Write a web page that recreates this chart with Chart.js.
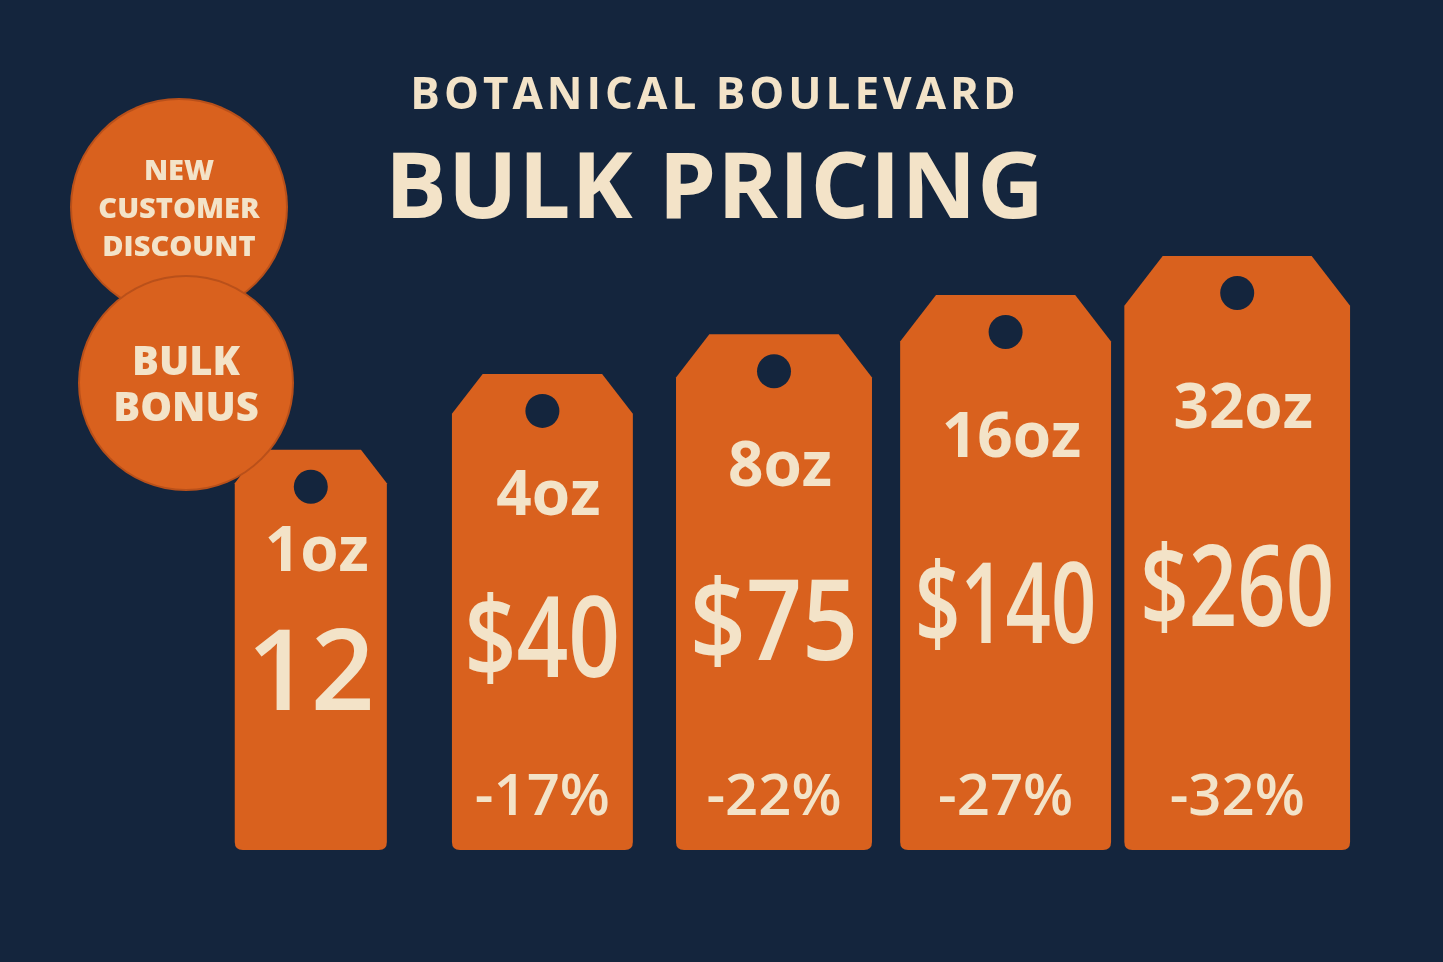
<!DOCTYPE html>
<html>
<head>
<meta charset="utf-8">
<script src="https://cdn.jsdelivr.net/npm/chart.js@4.4.0/dist/chart.umd.min.js"></script>
<style>
body{margin:0;background:#14253d;width:1443px;height:962px;overflow:hidden;position:relative;font-family:"Open Sans",sans-serif}
#wrap{position:absolute;left:0;top:0;width:1443px;height:962px}
.t1{position:absolute;left:0;width:1430px;top:62px;text-align:center;color:#f3e3c8;font:700 44px "Open Sans";letter-spacing:4px}
.t2{position:absolute;left:0;width:1430px;top:120px;text-align:center;color:#f3e3c8;font:700 92px "Open Sans";letter-spacing:1px}
.badge{position:absolute;border-radius:50%;background:#d9611e;color:#f3e3c8;display:flex;align-items:center;justify-content:center;text-align:center;font-weight:800;box-shadow:0 0 0 2px #b9501a}
</style>
</head>
<body>
<div id="wrap"><canvas id="c" width="1443" height="962"></canvas></div>
<div class="t1">BOTANICAL BOULEVARD</div>
<div class="t2">BULK PRICING</div>
<div class="badge" style="left:72px;top:100px;width:214px;height:214px;font-size:29px;line-height:38px">NEW<br>CUSTOMER<br>DISCOUNT</div>
<div class="badge" style="left:80px;top:277px;width:212px;height:212px;font-size:40px;line-height:46px">BULK<br>BONUS</div>
<script>
const sizes = ["1oz","4oz","8oz","16oz","32oz"]
const prices = [12,40,75,140,260]
const priceLabels = ["12","$40","$75","$140","$260"]
const discounts = ["","-17%","-22%","-27%","-32%"]

const orange="#d9611e", cream="#f3e3c8", bg="#14253d"

const tagPlugin={
  id:"tags",
  afterDatasetsDraw(chart){
    const ctx=chart.ctx
    const meta=chart.getDatasetMeta(0)
    meta.data.forEach((bar,i)=>{
      const top=bar.y, bottom=bar.base, h=bottom-top
      const w=h*0.38, x=bar.x, l=x-w/2, r=x+w/2, ch=w*0.17, rr=8
      ctx.save()
      ctx.fillStyle=orange
      ctx.beginPath()
      ctx.moveTo(l+ch,top)
      ctx.lineTo(r-ch,top)
      ctx.lineTo(r,top+ch*1.3)
      ctx.lineTo(r,bottom-rr)
      ctx.quadraticCurveTo(r,bottom,r-rr,bottom)
      ctx.lineTo(l+rr,bottom)
      ctx.quadraticCurveTo(l,bottom,l,bottom-rr)
      ctx.lineTo(l,top+ch*1.3)
      ctx.closePath()
      ctx.fill()
      // hole
      ctx.fillStyle=bg
      ctx.beginPath()
      ctx.arc(x,top+37,17,0,Math.PI*2)
      ctx.fill()
      ctx.fillStyle=cream
      ctx.textAlign="center"
      ctx.textBaseline="middle"
      ctx.font="700 62px 'Open Sans'"
      ctx.fillText(sizes[i],x+6,top+h*0.26)
      ctx.font="600 112px 'Open Sans'"
      ctx.fillText(priceLabels[i],x,top+h*0.57,w*0.86)
      ctx.font="600 58px 'Open Sans'"
      ctx.fillText(discounts[i],x,bottom-52,w*0.9)
      ctx.restore()
    })
  }
}

new Chart(document.getElementById("c"),{
  type:"bar",
  data:{labels:sizes,datasets:[{data:prices,backgroundColor:"rgba(0,0,0,0)",barPercentage:0.9,categoryPercentage:1}]},
  options:{
    responsive:false,animation:false,
    layout:{padding:{left:195,right:90,top:100,bottom:112}},
    plugins:{legend:{display:false},tooltip:{enabled:false}},
    scales:{
      x:{display:false},
      y:{type:"logarithmic",min:0.0209,max:3090,display:false}
    }
  },
  plugins:[tagPlugin]
})
</script>
</body>
</html>
